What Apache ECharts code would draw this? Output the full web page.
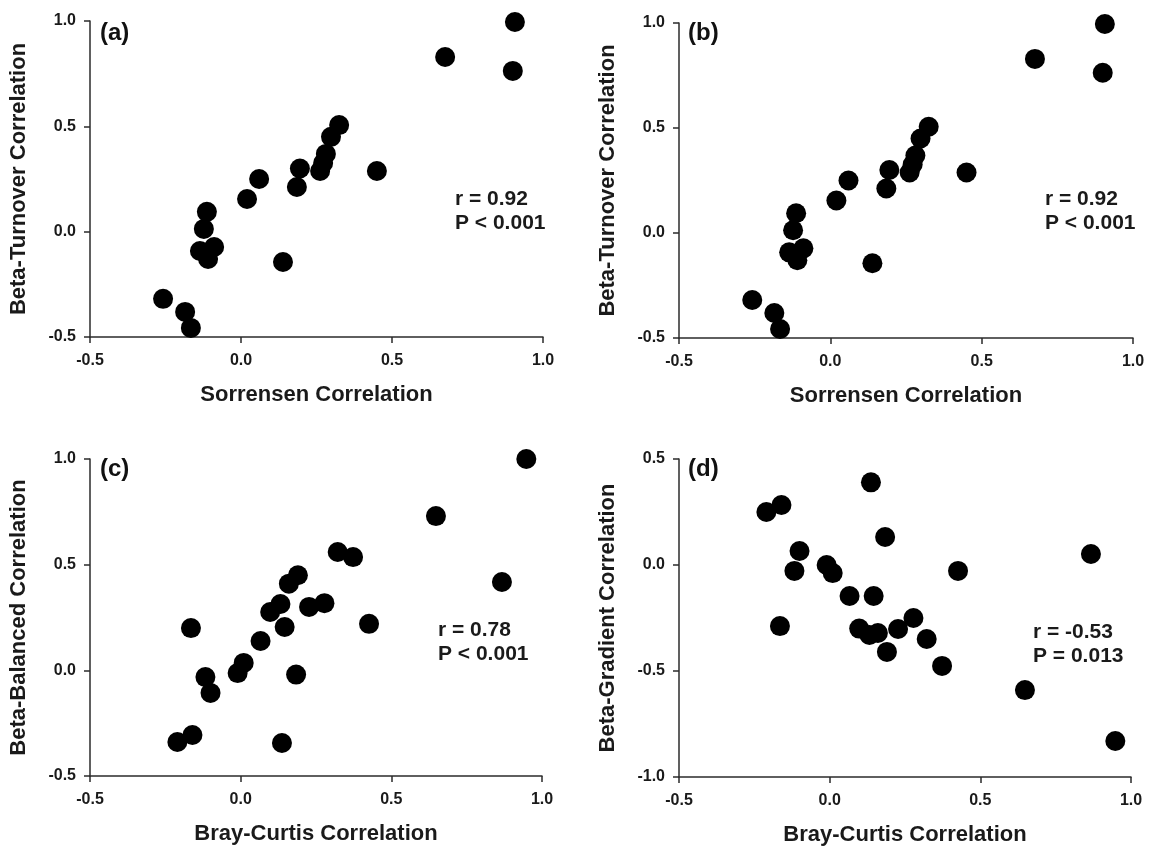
<!DOCTYPE html>
<html lang="en">
<head>
    <meta charset="UTF-8">
    <title>Beta diversity correlations</title>
    <script src="https://cdn.jsdelivr.net/npm/echarts/dist/echarts.min.js"></script>
    <style>
        html, body { margin: 0; padding: 0; background: #fff; }
        #chart { width: 1149px; height: 850px; }
    </style>
</head>
<body>
    <div id="chart"></div>
    <script>
        // panels (a) and (b): Sorrensen vs Beta-Turnover
        const sorensen = [-0.258, -0.185, -0.166, -0.136, -0.123, -0.113, -0.109, -0.089, 0.020, 0.060, 0.139, 0.185, 0.195, 0.262, 0.272, 0.281, 0.298, 0.325, 0.450, 0.676, 0.900, 0.907];
        const turnover = [-0.319, -0.381, -0.457, -0.092, 0.013, 0.094, -0.130, -0.073, 0.155, 0.250, -0.144, 0.212, 0.300, 0.288, 0.326, 0.369, 0.450, 0.506, 0.288, 0.829, 0.763, 0.995];

        // panels (c) and (d): Bray-Curtis vs Beta-Balanced / Beta-Gradient
        const brayCurtis = [-0.210, -0.165, -0.160, -0.117, -0.100, -0.010, 0.010, 0.066, 0.098, 0.132, 0.137, 0.146, 0.160, 0.184, 0.190, 0.227, 0.278, 0.322, 0.373, 0.426, 0.648, 0.867, 0.948];
        const balanced = [-0.339, 0.200, -0.306, -0.032, -0.107, -0.013, 0.035, 0.139, 0.276, 0.314, -0.344, 0.205, 0.410, -0.020, 0.450, 0.300, 0.318, 0.560, 0.536, 0.220, 0.730, 0.418, 1.000];
        const gradient = [0.250, -0.288, 0.283, -0.028, 0.066, 0.000, -0.038, -0.146, -0.300, -0.330, 0.390, -0.146, -0.321, 0.132, -0.410, -0.302, -0.250, -0.349, -0.476, -0.028, -0.590, 0.052, -0.830];

        const panelLabels = ['(a)', '(b)', '(c)', '(d)'];
        const xNames = ['Sorrensen Correlation', 'Sorrensen Correlation', 'Bray-Curtis Correlation', 'Bray-Curtis Correlation'];
        const yNames = ['Beta-Turnover Correlation', 'Beta-Turnover Correlation', 'Beta-Balanced Correlation', 'Beta-Gradient Correlation'];
        const yRanges = [[-0.5, 1.0], [-0.5, 1.0], [-0.5, 1.0], [-1.0, 0.5]];
        const stats = [['r = 0.92', 'P < 0.001'], ['r = 0.92', 'P < 0.001'], ['r = 0.78', 'P < 0.001'], ['r = -0.53', 'P = 0.013']];

        const FONT = '"Liberation Sans", Arial, sans-serif';
        const axisColor = '#2b2b2b';

        function pairs(xs, ys) {
            return xs.map((x, i) => [x, ys[i]]);
        }
        const seriesData = [
            pairs(sorensen, turnover),
            pairs(sorensen, turnover),
            pairs(brayCurtis, balanced),
            pairs(brayCurtis, gradient)
        ];

        const grids = [
            { left: 90, top: 21, width: 453, height: 316 },
            { left: 679, top: 23, width: 454, height: 315 },
            { left: 90, top: 459, width: 452, height: 317 },
            { left: 679, top: 459, width: 452, height: 318 }
        ];

        function baseAxis(i, name, min, max, isY) {
            return {
                gridIndex: i,
                type: 'value',
                min: min,
                max: max,
                interval: 0.5,
                name: name,
                nameLocation: 'middle',
                nameGap: isY ? 60 : 47,
                nameTextStyle: { fontFamily: FONT, fontWeight: 'bold', fontSize: 22, color: '#1a1a1a' },
                axisLine: { show: true, onZero: false, lineStyle: { color: axisColor, width: 1.5 } },
                axisTick: { show: true, length: 6, lineStyle: { color: axisColor, width: 1.5 } },
                splitLine: { show: false },
                axisLabel: {
                    fontFamily: FONT, fontWeight: 'bold', fontSize: 16, color: '#1a1a1a',
                    margin: isY ? 14 : 16,
                    formatter: v => v.toFixed(1)
                }
            };
        }

        const graphic = [];
        const labelPos = [[100, 21], [688, 21], [100, 457], [688, 457]];
        const statPos = [[455, 187], [1045, 187], [438, 618], [1033, 620]];
        for (let i = 0; i < 4; i++) {
            graphic.push({
                type: 'text', left: labelPos[i][0], top: labelPos[i][1],
                style: { text: panelLabels[i], font: 'bold 24px ' + FONT, fill: '#111' }
            });
            graphic.push({
                type: 'text', left: statPos[i][0], top: statPos[i][1],
                style: { text: stats[i].join('\n'), font: 'bold 21px ' + FONT, fill: '#1a1a1a', lineHeight: 24 }
            });
        }

        const chart = echarts.init(document.getElementById('chart'));
        chart.setOption({
            backgroundColor: '#fff',
            animation: false,
            grid: grids,
            xAxis: [0, 1, 2, 3].map(i => baseAxis(i, xNames[i], -0.5, 1.0, false)),
            yAxis: [0, 1, 2, 3].map(i => baseAxis(i, yNames[i], yRanges[i][0], yRanges[i][1], true)),
            series: [0, 1, 2, 3].map(i => ({
                type: 'scatter',
                xAxisIndex: i,
                yAxisIndex: i,
                symbol: 'circle',
                symbolSize: 20,
                itemStyle: { color: '#000', opacity: 1 },
                data: seriesData[i]
            })),
            graphic: graphic
        });
    </script>
</body>
</html>
